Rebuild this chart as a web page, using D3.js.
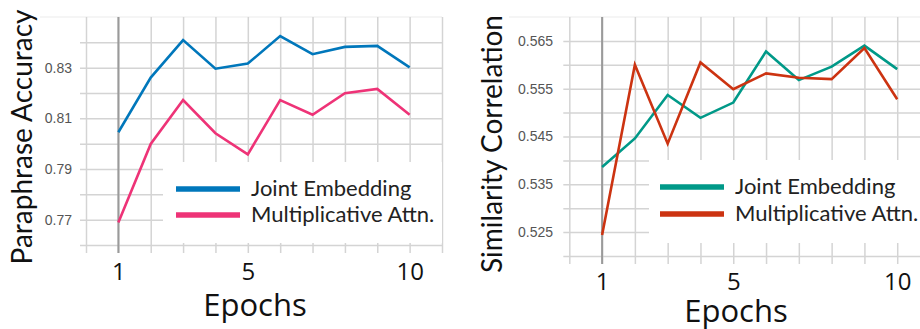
<!DOCTYPE html>
<html>
<head>
<meta charset="utf-8">
<script src="https://cdn.jsdelivr.net/npm/d3@7"></script>
<style>
  body { margin: 0; background: #fff; }
  svg { display: block; }
</style>
</head>
<body>
<svg id="chart" width="920" height="329"></svg>
<script>
// data
const epochs = [1, 2, 3, 4, 5, 6, 7, 8, 9, 10];
const seriesNames = ["Joint Embedding", "Multiplicative Attn."];

const paraJoint = [0.8045, 0.8261, 0.8409, 0.8296, 0.8316, 0.8425, 0.8353, 0.8382, 0.8386, 0.8301];
const paraMult  = [0.7689, 0.7999, 0.8172, 0.8041, 0.7958, 0.8172, 0.8114, 0.8199, 0.8216, 0.8114];

const simJoint = [0.5386, 0.5446, 0.5537, 0.5489, 0.5521, 0.5628, 0.5568, 0.5596, 0.5640, 0.5591];
const simMult  = [0.5244, 0.5600, 0.5435, 0.5605, 0.5549, 0.5582, 0.5573, 0.5570, 0.5635, 0.5528];

const xTicks = [1, 5, 10];
const paraTicks = [0.77, 0.79, 0.81, 0.83];
const paraGrid = [0.76, 0.77, 0.78, 0.79, 0.80, 0.81, 0.82, 0.83, 0.84];
const simTicks = [0.525, 0.535, 0.545, 0.555, 0.565];
const simGrid = [0.52, 0.525, 0.53, 0.535, 0.54, 0.545, 0.55, 0.555, 0.56, 0.565];

const svg = d3.select("#chart");

function drawPanel(p) {
    const x = d3.scaleLinear().domain([0, 11]).range([p.left, p.xEnd]);
    const y = d3.scaleLinear().domain(p.yDomain).range([p.bottom, p.top]);
    const g = svg.append("g");

    // light top frame line
    g.append("line")
        .attr("x1", p.frameLeft).attr("x2", Math.min(x(11), 920))
        .attr("y1", y(p.yDomain[1])).attr("y2", y(p.yDomain[1]))
        .attr("stroke", "#ebebeb").attr("stroke-width", 1.2);

    // horizontal grid
    const gy = g.append("g")
        .attr("transform", `translate(${x(0)},0)`)
        .call(d3.axisLeft(y).tickValues(p.grid).tickSize(-(x(11) - x(0))).tickFormat(""));
    gy.select(".domain").remove();
    gy.selectAll("line").attr("x1", -6).attr("stroke", "#d4d4d4").attr("stroke-width", 1.5);

    // vertical grid
    const gx = g.append("g")
        .attr("transform", `translate(0,${p.bottom})`)
        .call(d3.axisBottom(x).tickValues(d3.range(0, 12)).tickSize(-(p.bottom - p.top)).tickFormat(""));
    gx.select(".domain").remove();
    gx.selectAll("line").attr("y1", 8).attr("stroke", "#d4d4d4").attr("stroke-width", 1.5);

    // darker line at epoch 1
    g.append("line")
        .attr("x1", x(1)).attr("x2", x(1))
        .attr("y1", p.top).attr("y2", p.bottom + 8)
        .attr("stroke", "#9a9a9a").attr("stroke-width", 2);

    // legend background
    g.append("rect")
        .attr("x", p.legend.x).attr("y", p.legend.y)
        .attr("width", p.legend.w).attr("height", p.legend.h)
        .attr("fill", "#fff");

    // y tick labels
    const ty = g.append("g")
        .attr("transform", `translate(${p.tickLabelX},0)`)
        .call(d3.axisLeft(y).tickValues(p.ticks).tickSize(0).tickPadding(0).tickFormat(d3.format(p.fmt)));
    ty.select(".domain").remove();
    ty.selectAll("text")
        .attr("fill", "#555")
        .style("font-family", "'Liberation Sans', Arial, sans-serif")
        .style("font-size", "14px");

    // x tick labels
    const tx = g.append("g")
        .attr("transform", `translate(0,${p.xLabelY})`)
        .call(d3.axisBottom(x).tickValues(xTicks).tickSize(0).tickPadding(0));
    tx.select(".domain").remove();
    tx.selectAll("text")
        .attr("fill", "#111")
        .attr("dy", 0)
        .style("font-family", "'Open Sans', sans-serif")
        .style("font-size", "24px");

    // lines
    const line = d3.line().x((d, i) => x(epochs[i])).y(d => y(d));
    p.series.forEach((s, i) => {
        g.append("path")
            .datum(s)
            .attr("fill", "none")
            .attr("stroke", p.colors[i])
            .attr("stroke-width", 2.6)
            .attr("stroke-linejoin", "miter")
            .attr("d", line);
    });

    // legend entries
    seriesNames.forEach((name, i) => {
        const ly = p.legend.rowY[i];
        g.append("line")
            .attr("x1", p.legend.swX).attr("x2", p.legend.swX + 64)
            .attr("y1", ly).attr("y2", ly)
            .attr("stroke", p.colors[i]).attr("stroke-width", 5.5);
        g.append("text")
            .attr("x", p.legend.swX + 75).attr("y", ly + 6.5)
            .attr("fill", "#222")
            .style("font-family", "Lato, sans-serif")
            .style("font-size", "22px")
            .text(name);
    });

    // axis titles
    g.append("text")
        .attr("x", p.xTitleX).attr("y", p.xTitleY)
        .attr("text-anchor", "middle")
        .attr("fill", "#111")
        .style("font-family", "'Open Sans', sans-serif")
        .style("font-size", "31px")
        .text("Epochs");

    g.append("text")
        .attr("transform", `translate(${p.yTitleX},${p.yTitleY}) rotate(-90)`)
        .attr("text-anchor", "middle")
        .attr("fill", "#111")
        .style("font-family", "Lato, sans-serif")
        .style("font-size", "28px")
        .text(p.yTitle);
}

drawPanel({
    left: 86, xEnd: 442, top: 17, bottom: 245, frameLeft: 40,
    yDomain: [0.76, 0.85], grid: paraGrid, ticks: paraTicks, fmt: ".2f",
    tickLabelX: 72, xLabelY: 280, xTitleX: 255, xTitleY: 316,
    yTitle: "Paraphrase Accuracy", yTitleX: 32, yTitleY: 137,
    series: [paraJoint, paraMult], colors: ["#0077bb", "#ee3377"],
    legend: {x: 163, y: 162, w: 279, h: 81, swX: 176, rowY: [189, 215]}
});

drawPanel({
    left: 569.3, xEnd: 930, top: 17, bottom: 256, frameLeft: 509,
    yDomain: [0.52, 0.57], grid: simGrid, ticks: simTicks, fmt: ".3f",
    tickLabelX: 553, xLabelY: 290, xTitleX: 736, xTitleY: 322,
    yTitle: "Similarity Correlation", yTitleX: 502, yTitleY: 144,
    series: [simJoint, simMult], colors: ["#009988", "#cc3311"],
    legend: {x: 649, y: 160, w: 271, h: 83, swX: 660, rowY: [187, 214]}
});
</script>
</body>
</html>
